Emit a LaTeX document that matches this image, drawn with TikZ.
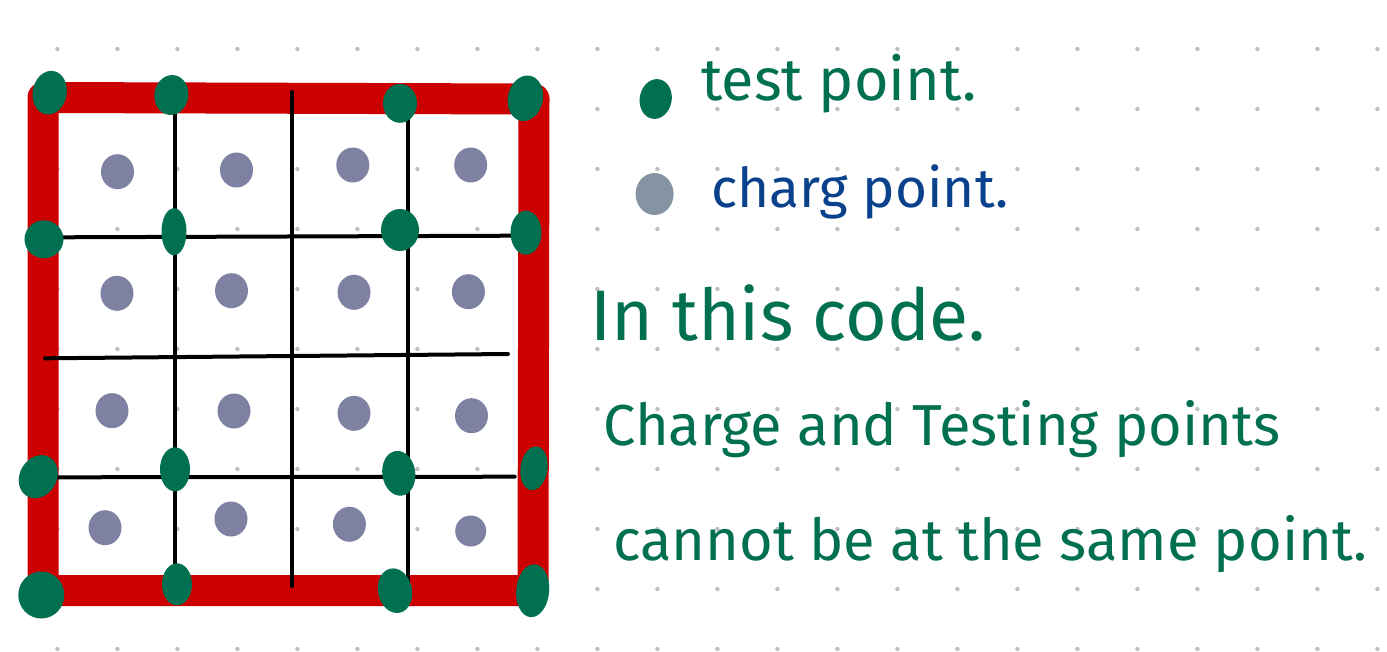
\documentclass[tikz,border=0pt]{standalone}
\usepackage{fontspec}
\setmainfont{Fira Sans}
\usetikzlibrary{shapes.geometric}
\definecolor{redline}{RGB}{204,0,0}
\definecolor{testgreen}{RGB}{0,112,80}
\definecolor{chargepurple}{RGB}{127,129,163}
\definecolor{legendgrey}{RGB}{133,147,163}
\definecolor{inkblue}{RGB}{10,65,140}
\definecolor{gridgrey}{RGB}{190,190,195}
\begin{document}
\begin{tikzpicture}[x=1pt,y=-1pt,
  testpt/.style={ellipse, fill=testgreen, inner sep=0pt},
  chargept/.style={ellipse, fill=chargepurple, inner sep=0pt, minimum width=33pt, minimum height=35pt},
  gridline/.style={line width=4pt, black, line cap=round},
  handtext/.style={anchor=base west, inner sep=0pt, text=testgreen}]
\useasboundingbox[fill=white] (0,0) rectangle (1387,651);
% dot grid
\foreach \i in {0,...,22}{
  \foreach \j in {0,...,10}{
    \fill[gridgrey] (57.4+60*\i,49+60*\j) circle (2.2pt);
  }
}
% red border
\coordinate (r1) at (43,97.5);
\coordinate (r2) at (534,99);
\coordinate (r3) at (533,590.5);
\coordinate (r4) at (43,590.5);
\draw[redline, line width=31pt, line join=round] (r1) -- (r2) -- (r3) -- (r4) -- cycle;
% black grid lines
\coordinate (v1a) at (175,113); \coordinate (v1b) at (175,573);
\coordinate (v2a) at (291.6,92); \coordinate (v2b) at (291.6,586);
\coordinate (v3a) at (407.6,113); \coordinate (v3b) at (407.6,580);
\coordinate (h1a) at (59,237.3); \coordinate (h1b) at (513,235.7);
\coordinate (h2a) at (45,358.3); \coordinate (h2b) at (508,354);
\coordinate (h3a) at (57.4,477.3); \coordinate (h3b) at (514.7,476.7);
\draw[gridline] (v1a) -- (v1b);
\draw[gridline] (v2a) -- (v2b);
\draw[gridline] (v3a) -- (v3b);
\draw[gridline] (h1a) -- (h1b);
\draw[gridline] (h2a) -- (h2b);
\draw[gridline] (h3a) -- (h3b);
% charge points
\node[chargept] (c11) at (117.5,171.7) {};
\node[chargept] (c12) at (236.5,170) {};
\node[chargept] (c13) at (352.8,165) {};
\node[chargept] (c14) at (470.7,165) {};
\node[chargept] (c21) at (117,293.3) {};
\node[chargept] (c22) at (231.5,290.7) {};
\node[chargept] (c23) at (354,292.3) {};
\node[chargept] (c24) at (468.4,291.7) {};
\node[chargept] (c31) at (112,410.7) {};
\node[chargept] (c32) at (234,411) {};
\node[chargept] (c33) at (354,413.3) {};
\node[chargept] (c34) at (471.5,415.7) {};
\node[chargept] (c41) at (105,527.7) {};
\node[chargept] (c42) at (231,519) {};
\node[chargept] (c43) at (349.4,524.3) {};
\node[chargept, minimum width=31pt, minimum height=31pt] (c44) at (470.7,531) {};
% test points
\node[testpt, minimum width=34pt, minimum height=44pt, rotate=-10] (t11) at (49.7,92.7) {};
\node[testpt, minimum width=34pt, minimum height=40pt, rotate=-8] (t12) at (171.4,95) {};
\node[testpt, minimum width=34pt, minimum height=39pt] (t13) at (400,103.3) {};
\node[testpt, minimum width=35pt, minimum height=46pt, rotate=-12] (t14) at (525.4,98.3) {};
\node[testpt, minimum width=39pt, minimum height=38pt] (t21) at (44,239.3) {};
\node[testpt, minimum width=25pt, minimum height=47pt] (t22) at (174,231.7) {};
\node[testpt, minimum width=38pt, minimum height=42pt] (t23) at (400,230) {};
\node[testpt, minimum width=31pt, minimum height=44pt] (t24) at (526,232.7) {};
\node[testpt, minimum width=37pt, minimum height=45pt, rotate=-30] (t31) at (38.3,476.7) {};
\node[testpt, minimum width=30pt, minimum height=44pt] (t32) at (175,469.3) {};
\node[testpt, minimum width=33pt, minimum height=45pt, rotate=8] (t33) at (398.8,473.3) {};
\node[testpt, minimum width=27pt, minimum height=44pt, rotate=-8] (t34) at (534,468.3) {};
\node[testpt, minimum width=46pt, minimum height=47pt] (t41) at (41.3,595) {};
\node[testpt, minimum width=30pt, minimum height=42pt] (t42) at (177,584.3) {};
\node[testpt, minimum width=34pt, minimum height=45pt, rotate=12] (t43) at (395,590.7) {};
\node[testpt, minimum width=33pt, minimum height=53pt, rotate=-5] (t44) at (532.7,590.7) {};
% legend
\node[testpt, minimum width=32pt, minimum height=40pt, rotate=-10] (lgt) at (655.7,99) {};
\node[ellipse, fill=legendgrey, inner sep=0pt, minimum width=38pt, minimum height=42pt] (lgc) at (654.6,194) {};
\node[handtext] (ltest) at (701,100) {\resizebox{275pt}{!}{test point.}};
\node[handtext, text=inkblue] (lcharge) at (711,207) {\resizebox{297pt}{!}{charg point.}};
% note
\node[handtext] (n1) at (590,340) {\resizebox{395pt}{!}{In this code.}};
\node[handtext] (n2) at (603,445) {\resizebox{677pt}{!}{Charge and Testing points}};
\node[handtext] (n3) at (613,560) {\resizebox{754pt}{!}{cannot be at the same point.}};
\end{tikzpicture}
\end{document}
